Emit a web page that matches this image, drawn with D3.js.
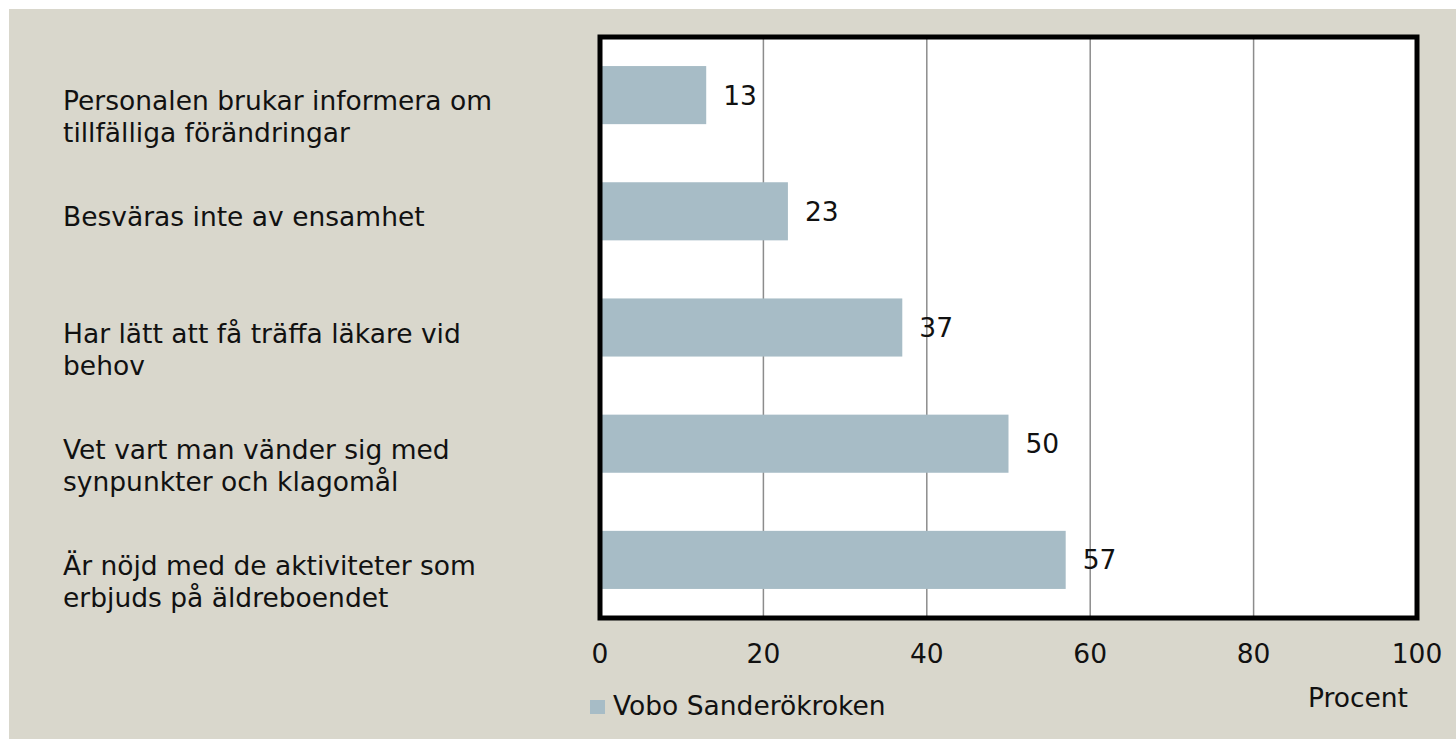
<!DOCTYPE html>
<html>
<head>
<meta charset="utf-8">
<script src="https://cdn.jsdelivr.net/npm/d3@7"></script>
<style>
  html, body { margin: 0; padding: 0; background: #fff; }
  svg { display: block; }
  text { font-family: "DejaVu Sans", sans-serif; fill: #111; }
</style>
</head>
<body>
<svg id="chart" width="1456" height="739"></svg>
<script>
// Chart data
const categories = [
    ["Personalen brukar informera om", "tillfälliga förändringar"],
    ["Besväras inte av ensamhet"],
    ["Har lätt att få träffa läkare vid", "behov"],
    ["Vet vart man vänder sig med", "synpunkter och klagomål"],
    ["Är nöjd med de aktiviteter som", "erbjuds på äldreboendet"]
];
const values = [13, 23, 37, 50, 57];
const xTicks = [0, 20, 40, 60, 80, 100];
const seriesName = "Vobo Sanderökroken";
const axisTitle = "Procent";

const svg = d3.select('#chart');
const W = 1456, H = 739;
const plot = { left: 600, top: 37, right: 1417, bottom: 618 };
const fontSize = 26.5;

// Background panel
svg.append('rect')
    .attr('x', 9).attr('y', 9)
    .attr('width', W - 9).attr('height', H - 9)
    .attr('fill', '#d9d7cc');

// Plot area
svg.append('rect')
    .attr('x', plot.left).attr('y', plot.top)
    .attr('width', plot.right - plot.left)
    .attr('height', plot.bottom - plot.top)
    .attr('fill', '#fff');

const x = d3.scaleLinear().domain([0, 100]).range([plot.left, plot.right]);
const y = d3.scaleBand()
    .domain(d3.range(values.length))
    .range([plot.top, plot.bottom])
    .paddingInner(0.5)
    .paddingOuter(0.25);

// Gridlines
svg.append('g')
    .selectAll('line')
    .data(xTicks.slice(1, -1))
    .join('line')
    .attr('x1', d => x(d)).attr('x2', d => x(d))
    .attr('y1', plot.top).attr('y2', plot.bottom)
    .attr('stroke', '#8c8c8c')
    .attr('stroke-width', 1.5);

// Bars
svg.append('g')
    .selectAll('rect')
    .data(values)
    .join('rect')
    .attr('x', x(0))
    .attr('y', (d, i) => y(i))
    .attr('width', d => x(d) - x(0))
    .attr('height', y.bandwidth())
    .attr('fill', '#a7bcc6');

// Value labels
svg.append('g')
    .selectAll('text')
    .data(values)
    .join('text')
    .attr('x', d => x(d) + 17)
    .attr('y', (d, i) => y(i) + y.bandwidth() / 2)
    .attr('dy', '0.36em')
    .attr('font-size', fontSize)
    .text(d => d);

// Plot border
svg.append('rect')
    .attr('x', plot.left).attr('y', plot.top)
    .attr('width', plot.right - plot.left)
    .attr('height', plot.bottom - plot.top)
    .attr('fill', 'none')
    .attr('stroke', '#000')
    .attr('stroke-width', 5);

// Category labels
const catG = svg.append('g');
categories.forEach((lines, i) => {
    const t = catG.append('text')
        .attr('x', 63)
        .attr('y', y(i) + y.bandwidth() / 2 + 15)
        .attr('font-size', fontSize);
    lines.forEach((line, j) => {
        t.append('tspan')
            .attr('x', 63)
            .attr('dy', j === 0 ? 0 : 32)
            .text(line);
    });
});

// X axis tick labels
svg.append('g')
    .selectAll('text')
    .data(xTicks)
    .join('text')
    .attr('x', d => x(d))
    .attr('y', 663)
    .attr('text-anchor', 'middle')
    .attr('font-size', fontSize)
    .text(d => d);

// Axis title
svg.append('text')
    .attr('x', 1408)
    .attr('y', 707)
    .attr('text-anchor', 'end')
    .attr('font-size', fontSize)
    .text(axisTitle);

// Legend
svg.append('rect')
    .attr('x', 590).attr('y', 700)
    .attr('width', 15).attr('height', 14)
    .attr('fill', '#a7bcc6');
svg.append('text')
    .attr('x', 613)
    .attr('y', 715)
    .attr('font-size', fontSize)
    .text(seriesName);
</script>
</body>
</html>
